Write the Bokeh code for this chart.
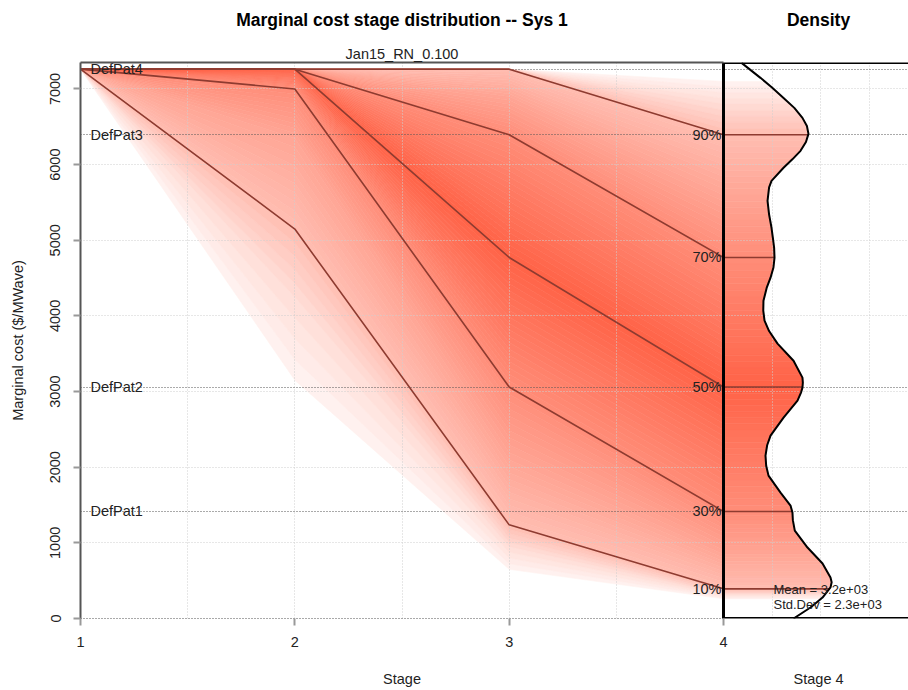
import numpy as np
from bokeh.plotting import figure
from bokeh.models import Range1d, FixedTicker, LinearAxis, ColumnDataSource
from bokeh.core.properties import value
from bokeh.embed import file_html
from bokeh.resources import INLINE

# ---------------------------------------------------------------- data
stages = [1, 2, 3, 4]

# Quantiles of the marginal cost ($/MWave) at each stage
q_levels = [1, 5, 10, 20, 30, 40, 50, 60, 70, 80, 90, 95, 99]
q01 = [7262, 3150, 650, 260]
q05 = [7262, 4250, 950, 320]
q10 = [7262, 5148, 1238, 392]
q20 = [7262, 6350, 2100, 850]
q30 = [7262, 7000, 3060, 1415]
q40 = [7262, 7150, 3900, 2250]
q50 = [7262, 7262, 4773, 3060]
q60 = [7262, 7262, 5600, 3900]
q70 = [7262, 7262, 6395, 4773]
q80 = [7262, 7262, 6900, 5600]
q90 = [7262, 7262, 7262, 6395]
q95 = [7262, 7262, 7262, 6800]
q99 = [7262, 7262, 7262, 7100]

# Percentiles drawn as lines and labelled at the last stage
line_levels = [10, 30, 50, 70, 90]

# Deficit cost steps
defpat_names = ["DefPat1", "DefPat2", "DefPat3", "DefPat4"]
defpat_costs = [1415, 3060, 6395, 7262]

# Stage 4 density estimate (density in 1e-4 per $/MWave)
dens_cost = [0, 145, 277, 410, 480, 542, 727, 938, 1162, 1300, 1400, 1493,
             1664, 1889, 2020, 2153, 2290, 2417, 2655, 2880, 2990, 3052, 3120,
             3184, 3408, 3633, 3800, 3937, 4070, 4201, 4370, 4505, 4640, 4769,
             4900, 5040, 5165, 5340, 5522, 5700, 5786, 5958, 6070, 6182, 6300,
             6407, 6510, 6618, 6750, 6882, 7020, 7147, 7345]
dens_val = [0.722, 0.897, 1.021, 1.103, 1.115, 1.103, 1.021, 0.866, 0.735,
            0.715, 0.711, 0.691, 0.588, 0.464, 0.440, 0.433, 0.450, 0.485,
            0.619, 0.763, 0.800, 0.814, 0.818, 0.814, 0.722, 0.557, 0.470,
            0.423, 0.410, 0.412, 0.445, 0.485, 0.515, 0.526, 0.522, 0.508,
            0.495, 0.470, 0.454, 0.470, 0.495, 0.619, 0.710, 0.794, 0.850,
            0.876, 0.860, 0.814, 0.730, 0.619, 0.500, 0.381, 0.186]

stage4_mean = 3.2e3
stage4_std = 2.3e3

main_title = "Marginal cost stage distribution -- Sys 1"
sub_title = "Jan15_RN_0.100"
dens_title = "Density"
x_title = "Stage"
dens_x_title = "Stage 4"
y_title = "Marginal cost ($/MWave)"

# ---------------------------------------------------------------- styles
FONT = "Liberation Sans"
TXT = "#222222"
LINE_RED = "#8E3B30"
FAN_RGB = np.array([255, 99, 71])         # tomato at the median
# share of white blended into the fan colour vs. distance from the median
WHITE_AT_DIST = ([0.0, 0.4, 0.8, 0.9, 1.0], [0.0, 0.27, 0.58, 0.78, 0.97])


def fan_color(pct):
    d = abs(pct - 50) / 50
    w = np.interp(d, *WHITE_AT_DIST)
    r, g, b = (FAN_RGB + (255 - FAN_RGB) * w).round().astype(int)
    return f"#{r:02X}{g:02X}{b:02X}"


# ---------------------------------------------------------------- layout
FRAME_W, FRAME_H = 828, 556
FRAME_TOP = 62
MAIN_W = 643                      # pixels used by stages 1..4
DENS_PX = 97                      # pixels per density unit
Y_TOP = 7350
X_END = 1 + 3 * FRAME_W / MAIN_W
DENS_START = -MAIN_W / DENS_PX
DENS_END = (FRAME_W - MAIN_W) / DENS_PX
PX_PER_Y = FRAME_H / Y_TOP
DENS_MID = 0.98                   # centre of the density panel (density units)
DENS_MID_STAGE = 4 + DENS_MID * DENS_PX / (MAIN_W / 3)


def row_y(py):
    """Cost value sitting at canvas row py."""
    return (FRAME_TOP + FRAME_H - py) / PX_PER_Y


p = figure(frame_width=FRAME_W, frame_height=FRAME_H,
           min_border_left=80, min_border_right=0,
           min_border_top=FRAME_TOP, min_border_bottom=690 - FRAME_TOP - FRAME_H,
           x_range=Range1d(1, X_END), y_range=Range1d(0, Y_TOP),
           output_backend="svg", toolbar_location=None)
p.extra_x_ranges = {"dens": Range1d(DENS_START, DENS_END)}
p.title.text = ""
p.title.visible = False
p.outline_line_color = None
p.grid.visible = False

# ---------------------------------------------------------------- fan
# Each band between two read quantiles is shaded in one-percent steps,
# so that the colour fades smoothly from the median outwards.
Q = np.array([q01, q05, q10, q20, q30, q40, q50, q60, q70, q80, q90, q95, q99], dtype=float)
q_by_level = dict(zip(q_levels, Q.tolist()))
dc = np.array(dens_cost, dtype=float)
dv = np.array(dens_val, dtype=float)

shades = []   # (distance from median, lower curve, upper curve, colour)
for k in range(len(q_levels) - 1):
    p_lo, p_hi = q_levels[k], q_levels[k + 1]
    steps = p_hi - p_lo
    for j in range(steps):
        t0, t1 = j / steps, (j + 1) / steps
        lo = Q[k] + (Q[k + 1] - Q[k]) * t0
        hi = Q[k] + (Q[k + 1] - Q[k]) * t1
        pm = p_lo + (j + 0.5)
        shades.append((abs(pm - 50), lo, hi, fan_color(pm)))
shades.sort(key=lambda s: -s[0])          # pale outer shades first

fan_xs, fan_ys, fan_cols = [], [], []
d_xs, d_ys, d_cols = [], [], []
for _, lo, hi, col in shades:
    fan_xs.append(stages + stages[::-1])
    fan_ys.append(lo.tolist() + hi[::-1].tolist())
    fan_cols.append(col)
    a, b = lo[-1], hi[-1]
    if b > a:
        inside = (dc > a) & (dc < b)
        d_ys.append([a] + dc[inside].tolist() + [b, b, a])
        d_xs.append([float(np.interp(a, dc, dv))] + dv[inside].tolist()
                    + [float(np.interp(b, dc, dv)), 0, 0])
        d_cols.append(col)

p.patches(fan_xs, fan_ys, fill_color=fan_cols, line_color=fan_cols, line_width=0.6)
p.patches(d_xs, d_ys, fill_color=d_cols, line_color=d_cols, line_width=0.6,
          x_range_name="dens")

# ---------------------------------------------------------------- grid
GRID = "#CFCFCF"
y_ticks = list(range(0, 7001, 1000))
p.hspan(y=y_ticks[1:], line_color=GRID, line_dash="1 2", line_width=1)
main_grid = [1.5, 2, 2.5, 3, 3.5]
p.vspan(x=main_grid, line_color=GRID, line_dash="1 2", line_width=1)
dens_grid = [0.5, 1.0, 1.5]
p.vspan(x=dens_grid, x_range_name="dens", line_color=GRID, line_dash="1 2", line_width=1)

# deficit levels
p.hspan(y=defpat_costs, line_color="#555555", line_dash="1 2", line_width=1.1)

# ---------------------------------------------------------------- percentile lines
p.multi_line([stages] * len(line_levels), [q_by_level[l] for l in line_levels],
             line_color=LINE_RED, line_width=1.6)
last = [q_by_level[l][-1] for l in line_levels]
p.segment(x0=0, y0=last, x1=np.interp(last, dc, dv).tolist(), y1=last,
          x_range_name="dens", line_color=LINE_RED, line_width=1.6)

# density curve
p.line(dens_val, dens_cost, x_range_name="dens", line_color="black", line_width=2)

# density panel box
p.line([DENS_END, 0, 0, DENS_END], [Y_TOP, Y_TOP, 0, 0], x_range_name="dens",
       line_color="black", line_width=3)

# ---------------------------------------------------------------- axes
p.xaxis.ticker = FixedTicker(ticks=stages)
p.xaxis.bounds = (1, 4)
p.xaxis.axis_line_color = "#555555"
p.xaxis.axis_line_dash = "1 2"
p.xaxis.axis_line_width = 1.1
p.xaxis.major_tick_line_color = "#999999"
p.xaxis.major_tick_line_width = 2
p.xaxis.major_tick_out = 7
p.xaxis.major_tick_in = 0
p.xaxis.minor_tick_line_color = None
p.xaxis.major_label_standoff = 11
p.xaxis.major_label_text_font = FONT
p.xaxis.major_label_text_font_size = "14.5px"
p.xaxis.major_label_text_color = TXT

p.yaxis.ticker = FixedTicker(ticks=y_ticks)
p.yaxis.bounds = (0, Y_TOP)
p.yaxis.axis_line_color = "#555555"
p.yaxis.axis_line_width = 2
p.yaxis.major_tick_line_color = "#999999"
p.yaxis.major_tick_line_width = 2
p.yaxis.major_tick_out = 7
p.yaxis.major_tick_in = 0
p.yaxis.minor_tick_line_color = None
p.yaxis.major_label_orientation = "vertical"
p.yaxis.major_label_standoff = 13
p.yaxis.major_label_text_font = FONT
p.yaxis.major_label_text_font_size = "14.5px"
p.yaxis.major_label_text_color = TXT
p.yaxis.axis_label = y_title
p.yaxis.axis_label_standoff = 22
p.yaxis.axis_label_text_font = FONT
p.yaxis.axis_label_text_font_size = "14.5px"
p.yaxis.axis_label_text_font_style = "normal"
p.yaxis.axis_label_text_color = TXT


def caption_axis(side, ticks, labels, size, bold, standoff, line_color=None):
    """An axis carrying only caption texts, one per tick position."""
    ax = LinearAxis(ticker=FixedTicker(ticks=ticks),
                    major_label_overrides=dict(zip(ticks, labels)))
    ax.axis_line_color = line_color
    ax.axis_line_width = 2
    ax.bounds = (1, 4)
    ax.major_tick_line_color = None
    ax.minor_tick_line_color = None
    ax.major_tick_out = 0
    ax.major_tick_in = 0
    ax.major_label_standoff = standoff
    ax.major_label_text_font = FONT
    ax.major_label_text_font_size = size
    ax.major_label_text_font_style = "bold" if bold else "normal"
    ax.major_label_text_color = "black" if bold else TXT
    p.add_layout(ax, side)


# above the frame: subtitle row (also the main panel's top edge), then titles
caption_axis("above", [2.5], [sub_title], "14.5px", False, 1, line_color="#555555")
caption_axis("above", [2.5, DENS_MID_STAGE], [main_title, dens_title], "17.5px", True, 13)
# below the tick labels: axis titles of both panels
caption_axis("below", [2.5, DENS_MID_STAGE], [x_title, dens_x_title], "14.5px", False, 21)

# ---------------------------------------------------------------- texts
p.text(x=[1] * len(defpat_costs), y=defpat_costs, text=defpat_names, x_offset=10,
       text_font=value(FONT), text_font_size="14.5px", text_color=TXT,
       text_align="left", text_baseline="middle")
p.text(x=[4] * len(line_levels), y=last, text=[f"{l}%" for l in line_levels],
       x_offset=-2, text_font=value(FONT), text_font_size="14.5px", text_color=TXT,
       text_align="right", text_baseline="middle")

stat_src = ColumnDataSource(dict(
    x=[0.515, 0.515], y=[row_y(589), row_y(604)],
    t=[f"Mean = {stage4_mean:.1e}", f"Std.Dev = {stage4_std:.1e}"]))
p.text(x="x", y="y", text="t", source=stat_src, x_range_name="dens",
       text_font=value(FONT), text_font_size="13px", text_color=TXT,
       text_align="left", text_baseline="middle")

open("out.html", "w").write(file_html(p, INLINE))
